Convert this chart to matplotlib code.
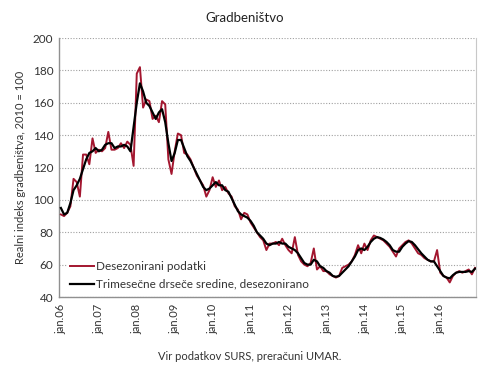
import matplotlib
matplotlib.use('Agg')
import matplotlib.pyplot as plt

plt.rcParams['font.family'] = ['Lato', 'DejaVu Sans']

# monthly, jan.2006 - dec.2016
desezonirani = [
    91, 90, 92, 96, 113, 111, 102, 128, 128, 122, 138, 129,
    131, 130, 132, 142, 131, 131, 132, 135, 132, 136, 134, 121,
    178, 182, 157, 162, 161, 150, 152, 148, 161, 159, 125, 116,
    130, 141, 140, 129, 128, 125, 120, 115, 112, 109, 102, 106,
    114, 108, 112, 106, 108, 104, 102, 96, 94, 88, 92, 91,
    86, 83, 80, 77, 75, 69, 73, 73, 74, 72, 76, 72,
    69, 67, 77, 66, 62, 60, 59, 61, 70, 57, 59, 56,
    56, 54, 53, 52, 53, 58, 59, 60, 62, 66, 72, 67,
    73, 69, 75, 78, 77, 76, 75, 73, 71, 68, 65, 70,
    72, 74, 75, 73, 70, 67, 66, 64, 63, 62, 62, 69,
    55, 53, 52, 49, 53, 55, 56, 55, 56, 57, 54, 58,
]
drsece_sredine = [
    95, 91, 92, 98, 106, 109, 113, 119, 125, 129, 130, 132,
    130, 131, 134, 135, 135, 132, 133, 133, 134, 133, 130, 145,
    160, 172, 167, 160, 158, 154, 150, 154, 156, 148, 135, 124,
    129, 137, 137, 132, 127, 124, 120, 116, 112, 108, 106, 107,
    109, 111, 109, 109, 106, 105, 101, 97, 93, 91, 90, 89,
    87, 84, 80, 78, 76, 73, 72, 73, 73, 74, 73, 73,
    71, 70, 69, 67, 64, 61, 60, 60, 63, 62, 59, 58,
    56, 55, 53, 52.5, 53, 55, 57, 59, 62, 65, 69, 70,
    69, 71, 74, 76, 77, 76.5, 75.5, 74, 72, 69, 68, 68,
    71, 73, 74.5, 74, 72, 69.5, 67, 65, 63, 62, 62, 59,
    56, 53, 52, 51.5, 53.5, 55, 55.5, 55.5, 55.5, 56, 55.5, 57.5,
]
leta = ['06', '07', '08', '09', '10', '11', '12', '13', '14', '15', '16']
tick_labels = ['jan.' + y for y in leta]

RED = '#a3162f'
TXT = '#333333'
GRID = '#a0a0a0'

fig = plt.figure(figsize=(4.9, 3.77), dpi=100)
ax = fig.add_axes([0.1204, 0.2122, 0.8510, 0.6870])

x = list(range(len(desezonirani)))
ax.plot(x, desezonirani, color=RED, lw=1.4, label='Desezonirani podatki', zorder=3)
ax.plot(x, drsece_sredine, color='black', lw=1.6,
        label='Trimesečne drseče sredine, desezonirano', zorder=4)

ax.set_xlim(-0.6, 131.3)
ax.set_ylim(40, 200)
ax.set_yticks(range(40, 201, 20))
ax.set_xticks([i * 12 for i in range(len(tick_labels))])
ax.set_xticklabels(tick_labels, rotation=90)
ax.tick_params(axis='both', length=0, labelsize=8.5, colors=TXT, pad=4)
ax.tick_params(axis='x', labelsize=8, pad=5)

ax.yaxis.grid(True, linestyle=(0, (1, 1.5)), color=GRID, lw=0.8)
ax.set_axisbelow(True)
for side in ['left', 'bottom']:
    ax.spines[side].set_color('#909090')
    ax.spines[side].set_linewidth(1.0)
ax.spines['right'].set_color('#c8c8c8')
ax.spines['right'].set_linewidth(0.8)
ax.spines['top'].set_visible(False)

ax.set_ylabel('Realni indeks gradbeništva, 2010 = 100', fontsize=8, color=TXT, labelpad=5)

leg = ax.legend(loc='lower left', bbox_to_anchor=(0.01, 0.0), fontsize=8.5,
                frameon=True, fancybox=False, framealpha=1, edgecolor='none',
                handlelength=2.0, handletextpad=0.2, borderpad=0.3,
                labelspacing=0.55, borderaxespad=0.3)
for t in leg.get_texts():
    t.set_color(TXT)
leg.set_zorder(2)

fig.text(0.5, 0.953, 'Gradbeništvo', ha='center', va='center', fontsize=9.5, color='#222222')
fig.text(0.51, 0.055, 'Vir podatkov SURS, preračuni UMAR.', ha='center', va='center',
         fontsize=8, color=TXT)

fig.savefig('out.png', dpi=100)
